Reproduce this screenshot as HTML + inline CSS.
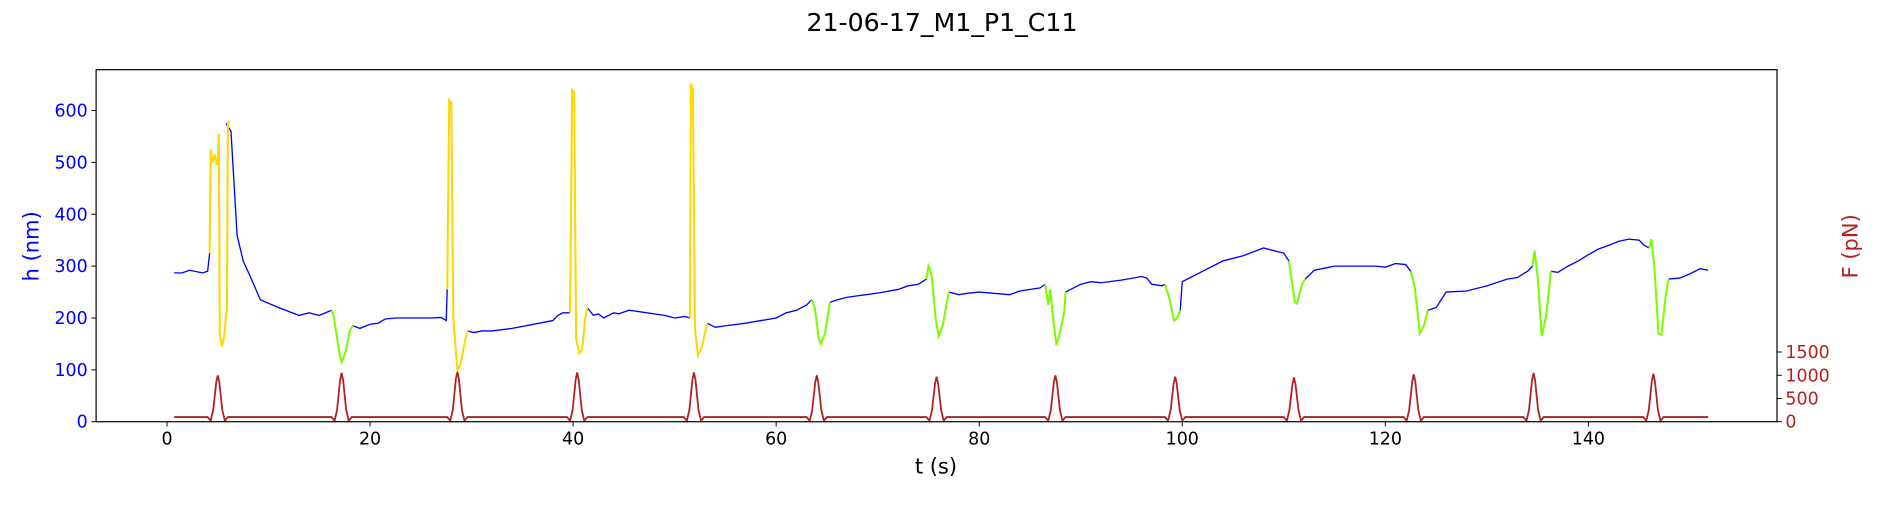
<!DOCTYPE html>
<html><head><meta charset="utf-8"><style>
body{margin:0;background:#fff;font-family:"Liberation Sans","DejaVu Sans",sans-serif}
svg text{font-family:"DejaVu Sans","Liberation Sans",sans-serif}
</style></head><body>
<svg width="1884" height="500" xmlns="http://www.w3.org/2000/svg"><g id="chart" transform="scale(1.2015)"></g></svg>
<script>
const xTicks=[0,20,40,60,80,100,120,140];
const hTicks=[0,100,200,300,400,500,600];
const fTicks=[0,500,1000,1500];
const blueT=[0.7,1.5,2.2,3.5,4.0,4.2,5.8,6.3,6.9,7.5,8.2,9.2,11,13,14,15,16.2,18.3,19,20,20.8,21.5,22.5,26,27,27.5,27.6,29.6,30.2,31,32,34,38,38.5,39,39.7,41.4,42,42.5,43,44,44.5,45.5,49,50,51,51.5,53.2,54,55,57,60,61,62,63,63.5,65.3,66,67,70,72,73,74,74.8,77,78,79,80,83,84,86,86.5,88.5,89,90,91,92,94,96,96.5,97,98,98.3,99.8,100,101,102,103,104,106,108,109,110,110.5,112.1,113,114,115,116,119,120,121,122,122.5,124.2,125,126,128,130,132,133,134,134.5,136.3,137,138,139,140,141,142,143,144,145,145.5,146.0,147.9,149,150,151,151.8];
const blueH=[287,287,292,287,290,325,575,560,360,310,280,235,220,205,210,205,215,185,180,188,190,198,200,200,201,195,255,175,172,175,175,180,195,205,210,210,220,205,208,200,210,208,215,205,200,203,200,190,182,185,190,200,210,215,225,235,230,235,240,248,255,262,265,275,250,245,248,250,245,252,258,265,250,255,265,270,268,273,280,277,265,262,265,215,270,280,290,300,310,320,335,330,325,310,275,292,296,300,300,300,298,305,303,290,215,220,250,252,262,275,278,290,300,290,288,300,310,322,333,340,348,352,350,340,335,275,277,285,295,292];
const yellowSegs=[
 [[4.2,325],[4.3,525],[4.5,500],[4.7,515],[4.9,495],[5.0,505],[5.1,555],[5.2,170],[5.4,145],[5.6,160],[5.8,200],[5.9,215],[6.0,580],[6.1,575]],
 [[27.6,255],[27.8,620],[28.0,615],[28.2,200],[28.6,100],[28.9,110],[29.4,160],[29.6,175]],
 [[39.7,210],[39.9,640],[40.1,635],[40.3,160],[40.6,132],[40.9,140],[41.2,200],[41.4,220]],
 [[51.5,200],[51.6,652],[51.8,640],[52.0,180],[52.3,128],[52.7,145],[53.2,190]]];
const greenSegs=[
 [[16.2,215],[16.4,205],[17.0,130],[17.2,115],[17.6,135],[18.0,175],[18.3,185]],
 [[63.5,235],[63.8,220],[64.2,160],[64.4,150],[64.8,170],[65.3,230]],
 [[74.8,275],[75.0,300],[75.3,285],[75.7,200],[76.0,165],[76.4,185],[77.0,250]],
 [[86.5,265],[86.8,225],[87.0,255],[87.3,195],[87.6,148],[88.0,175],[88.4,215],[88.5,250]],
 [[98.3,265],[98.7,240],[99.2,195],[99.5,200],[99.8,215]],
 [[110.5,310],[110.8,270],[111.1,230],[111.3,228],[111.8,265],[112.1,275]],
 [[122.5,290],[122.9,260],[123.4,170],[123.8,185],[124.2,215]],
 [[134.5,300],[134.7,330],[135.0,280],[135.4,165],[135.8,200],[136.1,250],[136.3,290]],
 [[146.0,335],[146.2,352],[146.5,300],[146.9,170],[147.2,168],[147.6,240],[147.9,275]]];
const peakT=[5.0,17.2,28.6,40.4,51.9,64.0,75.8,87.5,99.3,111.0,122.8,134.6,146.4];
const peakF=[1000,1050,1080,1060,1060,1000,970,1000,970,950,1020,1050,1030];
const baseF=100;

const NS="http://www.w3.org/2000/svg";
const svg=document.getElementById('chart');
const L=80,R=1479,T=58,B=351;
const X=t=>139+t*(1183/140);
const YH=h=>B-h*0.4317;
const YF=f=>B-f*0.03867;
function el(tag,attrs,txt){const e=document.createElementNS(NS,tag);for(const k in attrs)e.setAttribute(k,attrs[k]);if(txt!==undefined)e.textContent=txt;svg.appendChild(e);return e;}

let t=el('text',{x:784,y:26,'font-size':21,'text-anchor':'middle'},'21-06-17_M1_P1_C11');



let fp=[[0.7,baseF]];
peakT.forEach((pt,i)=>{const a=peakF[i];
 fp.push([pt-1.0,baseF],[pt-0.7,20],[pt-0.45,250],[pt-0.15,a*0.85],[pt,a],[pt+0.15,a*0.85],[pt+0.45,250],[pt+0.7,20],[pt+1.0,baseF]);});
fp.push([151.8,baseF]);
let fl=el('polyline',{points:fp.map(p=>X(p[0])+','+YF(p[1])).join(' '),fill:'none',stroke:'#b22222','stroke-width':1.5});



const segStarts=new Set([...yellowSegs,...greenSegs].map(s=>s[0][0]));
let d='';
blueT.forEach((v,i)=>{const brk=i===0||segStarts.has(blueT[i-1]);d+=(brk?'M':'L')+X(v)+','+YH(blueH[i])+' ';});
let bl=el('path',{d:d,fill:'none',stroke:'#0000ff','stroke-width':1.1});


yellowSegs.forEach(s=>{let p=el('polyline',{points:s.map(q=>X(q[0])+','+YH(q[1])).join(' '),fill:'none',stroke:'#ffd700','stroke-width':1.7});
 
 });
greenSegs.forEach(s=>{let p=el('polyline',{points:s.map(q=>X(q[0])+','+YH(q[1])).join(' '),fill:'none',stroke:'#7cfc00','stroke-width':1.7});
 
 });

let fr=el('rect',{x:L,y:T,width:R-L,height:B-T,fill:'none',stroke:'#000','stroke-width':1});



xTicks.forEach(v=>{el('line',{x1:X(v),x2:X(v),y1:B,y2:B+4,stroke:'#000','stroke-width':0.8});
 let tx=el('text',{x:X(v),y:B+19,'font-size':14.5,'text-anchor':'middle'},v);
 
 });
hTicks.forEach(v=>{el('line',{x1:L-4,x2:L,y1:YH(v),y2:YH(v),stroke:'#000','stroke-width':0.8});
 let tx=el('text',{x:L-7,y:YH(v)+5,'font-size':14.5,'text-anchor':'end',fill:'#0000ff'},v);
 
 });
fTicks.forEach(v=>{el('line',{x1:R,x2:R+4,y1:YF(v),y2:YF(v),stroke:'#000','stroke-width':0.8});
 let tx=el('text',{x:R+7,y:YF(v)+5,'font-size':14.5,fill:'#b22222'},v);
 
 });

let xl=el('text',{x:779,y:394,'font-size':17.5,'text-anchor':'middle'},'t (s)');


let yl=el('text',{x:0,y:0,'font-size':17.5,'text-anchor':'middle',fill:'#0000ff',transform:'translate(32,205) rotate(-90)'},'h (nm)');


let yr=el('text',{x:0,y:0,'font-size':17.5,'text-anchor':'middle',fill:'#b22222',transform:'translate(1546,205) rotate(-90)'},'F (pN)');


</script>
</body></html>
